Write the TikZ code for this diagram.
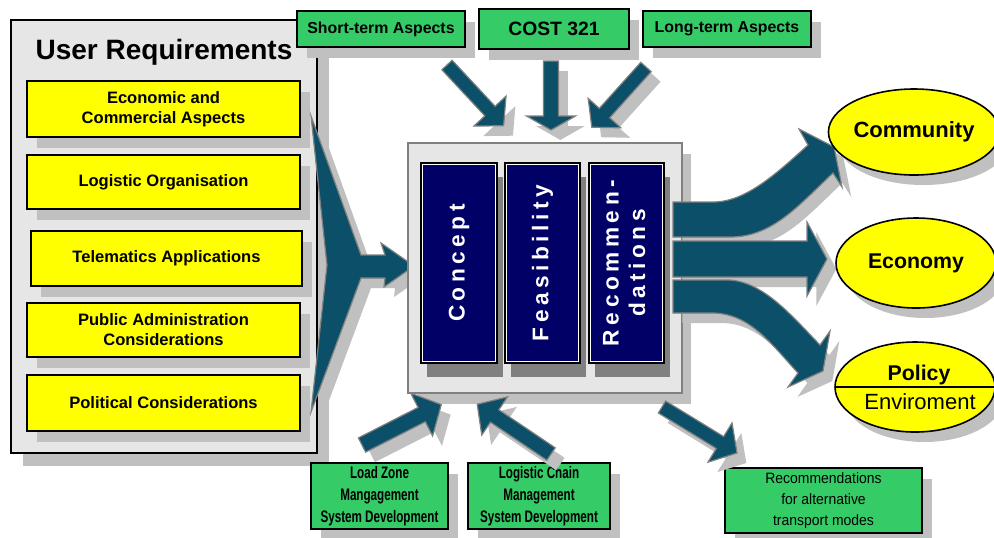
\documentclass[tikz,border=0pt]{standalone}
\usepackage{fontspec}
\setmainfont{Liberation Sans}
\newfontfamily\condfont[FakeStretch=0.70]{Liberation Sans}
\newfontfamily\recfont[FakeStretch=0.93]{Liberation Sans}
\newfontfamily\spacedfont[LetterSpace=20]{Liberation Sans}
\usetikzlibrary{shapes.geometric,shadows}

\definecolor{panelgray}{HTML}{E6E6E6}
\definecolor{shadowgray}{HTML}{C0C0C0}
\definecolor{darkshadow}{HTML}{808080}
\definecolor{reqyellow}{HTML}{FFFF00}
\definecolor{boxgreen}{HTML}{35CC68}
\definecolor{phasenavy}{HTML}{000066}
\definecolor{flowteal}{HTML}{0B5068}
\definecolor{edgegray}{HTML}{808080}

% block arrow: style, x, y, angle, length, half shaft width, half head width, head length
\newcommand{\blockarrow}[8]{%
  \path[#1, shift={(#2,#3)}, rotate=#4]
    (0,-#6) -- ({#5-#8},-#6) -- ({#5-#8},-#7) -- (#5,0)
    -- ({#5-#8},#7) -- ({#5-#8},#6) -- (0,#6) -- cycle;}
% block arrow with its grey drop shadow
\newcommand{\shadedarrow}[7]{%
  \blockarrow{arrowshadow, xshift=7pt, yshift=-7.5pt}{#1}{#2}{#3}{#4}{#5}{#6}{#7}%
  \blockarrow{arrowbody}{#1}{#2}{#3}{#4}{#5}{#6}{#7}}

\begin{document}
\begin{tikzpicture}[x=0.75pt,y=-0.75pt,
  sz/.style 2 args={minimum width=#1*0.75pt, minimum height=#2*0.75pt},
  every node/.style={inner sep=0pt, outer sep=0pt},
  boxshadow/.style={drop shadow={shadow xshift=7.5pt, shadow yshift=-8.25pt,
      fill=shadowgray, opacity=1}},
  panel/.style={rectangle, draw=black, line width=1.5pt, fill=panelgray,
      drop shadow={shadow xshift=9pt, shadow yshift=-9.75pt, fill=shadowgray, opacity=1}},
  reqbox/.style={rectangle, draw=black, line width=1.4pt, fill=reqyellow, boxshadow,
      align=center, font=\fontsize{12.4}{15}\selectfont\bfseries},
  greenbox/.style={rectangle, draw=black, line width=1.4pt, fill=boxgreen, boxshadow,
      align=center},
  centrebox/.style={rectangle, draw=edgegray, line width=1.1pt, fill=panelgray,
      drop shadow={shadow xshift=6.75pt, shadow yshift=-8.25pt, fill=shadowgray, opacity=1}},
  phasebox/.style={rectangle, draw=black, line width=1.3pt, fill=phasenavy,
      drop shadow={shadow xshift=4.5pt, shadow yshift=-10.5pt, fill=darkshadow, opacity=1},
      text=white, font=\spacedfont\fontsize{17}{20}\selectfont\bfseries},
  goal/.style={ellipse, draw=black, line width=1.2pt, fill=reqyellow,
      drop shadow={shadow xshift=7pt, shadow yshift=-7.5pt, fill=shadowgray, opacity=1}},
  arrowbody/.style={fill=flowteal, draw=edgegray, line width=0.9pt, line join=miter},
  arrowshadow/.style={fill=shadowgray}]

\useasboundingbox (0,0) rectangle (994,537);

% ---------------- user requirements panel ----------------
\node[panel, sz={306}{433}] (req) at (164,236.5) {};
\node[font=\fontsize{21}{25}\selectfont\bfseries] (reqtitle) at (164,52) {User Requirements};
\node[reqbox, sz={273}{56}] (eco) at (163.5,109) {Economic and\\Commercial Aspects};
\node[reqbox, sz={273}{54}] (logorg) at (163.5,182) {Logistic Organisation};
\node[reqbox, sz={271}{55}] (telem) at (166.5,258.5) {Telematics Applications};
\node[reqbox, sz={273}{54}] (pubadm) at (163.5,330) {Public Administration\\Considerations};
\node[reqbox, sz={273}{56}] (polit) at (163.5,403) {Political Considerations};

% chevron gathering the requirements
\path[arrowshadow, xshift=7.5pt, yshift=-7.5pt]
  (311,116) -- (361,255) -- (385,255) -- (381,243) -- (414,266) -- (384,287)
  -- (385,278) -- (361,278) -- (311,412) -- (327,265) -- cycle;
\path[arrowbody]
  (311,116) -- (361,255) -- (385,255) -- (381,243) -- (414,266) -- (384,287)
  -- (385,278) -- (361,278) -- (311,412) -- (327,265) -- cycle;

% ---------------- central study phases ----------------
\node[centrebox, sz={274}{250}] (study) at (545,268) {};
\node[phasebox, sz={76}{200}] (concept) at (459,263) {\rotatebox{90}{Concept}};
\node[phasebox, sz={75}{200}] (feas) at (542.5,263) {\rotatebox{90}{Feasibility}};
\node[phasebox, sz={75}{200}] (recom) at (626.5,263)
  {\rotatebox{90}{\begin{tabular}{@{}c@{}}Recommen-\\dations\end{tabular}}};
% thin light inner rim of the phase boxes
\foreach \n in {concept,feas,recom}
  \draw[white, line width=0.5pt]
    ([xshift=1.3pt,yshift=-1.3pt]\n.north west) rectangle ([xshift=-1.3pt,yshift=1.3pt]\n.south east);

% ---------------- outgoing flows ----------------
% to Community
\path[arrowshadow, xshift=7pt, yshift=-7.5pt]
  (673,202) -- (713,202) .. controls (745,202) and (775,175) .. (808,145)
  -- (799,129) -- (834,147) -- (842,187) -- (833,173)
  .. controls (797,207) and (772,237) .. (730,237) -- (673,237) -- cycle;
% to Policy / Enviroment
\path[arrowshadow, xshift=7pt, yshift=-7.5pt]
  (673,280) -- (727,280) .. controls (762,280) and (792,316) .. (820,345)
  -- (830,331) -- (823,371) -- (788,387) -- (798,373)
  .. controls (772,345) and (750,313) .. (712,313) -- (673,313) -- cycle;
% to Economy
\path[arrowshadow, xshift=7pt, yshift=-7.5pt]
  (673,241) -- (807,241) -- (807,222) -- (827,259) -- (807,296) -- (807,277)
  -- (673,277) -- cycle;
\path[arrowbody]
  (673,202) -- (713,202) .. controls (745,202) and (775,175) .. (808,145)
  -- (799,129) -- (834,147) -- (842,187) -- (833,173)
  .. controls (797,207) and (772,237) .. (730,237) -- (673,237) -- cycle;
\path[arrowbody]
  (673,280) -- (727,280) .. controls (762,280) and (792,316) .. (820,345)
  -- (830,331) -- (823,371) -- (788,387) -- (798,373)
  .. controls (772,345) and (750,313) .. (712,313) -- (673,313) -- cycle;
\path[arrowbody]
  (673,241) -- (807,241) -- (807,222) -- (827,259) -- (807,296) -- (807,277)
  -- (673,277) -- cycle;

% ---------------- impact areas ----------------
\node[goal, sz={162}{86}, font=\fontsize{16.5}{18}\selectfont\bfseries] (community) at (914,132) {Community};
\node[goal, sz={160}{90}, font=\fontsize{16}{18}\selectfont\bfseries] (economy) at (916,263) {Economy};
\node[goal, sz={160}{90}] (policyenv) at (915,387) {};
\draw[line width=1.2pt] (policyenv.west) -- (policyenv.east);
\node[font=\fontsize{16}{18}\selectfont\bfseries] (policy) at (919,375) {Policy};
\node[font=\fontsize{16.5}{18}\selectfont] (envir) at (920,402) {Enviroment};

% ---------------- inputs from above ----------------
\node[greenbox, sz={168}{36}, font=\fontsize{11.9}{14}\selectfont\bfseries] (short) at (381,29) {Short-term Aspects};
\node[greenbox, sz={150}{40}, font=\fontsize{14.5}{17}\selectfont\bfseries] (cost) at (554,29) {COST 321};
\node[greenbox, sz={168}{36}, font=\fontsize{11.9}{14}\selectfont\bfseries] (long) at (727,29) {Long-term Aspects};

\shadedarrow{447}{65}{-47}{83}{7}{22}{20}
\shadedarrow{551}{61}{-90}{69}{7.5}{24.5}{14}
\shadedarrow{646}{67}{-132}{81}{7}{22}{19}

% ---------------- inputs from below ----------------
\node[greenbox, sz={137}{66}, font=\condfont\fontsize{12.5}{16.3}\selectfont\bfseries] (loadzone) at (379.5,496)
  {Load Zone\\Mangagement\\System Development};
\node[greenbox, sz={142}{66}, font=\condfont\fontsize{12.5}{16.3}\selectfont\bfseries] (chain) at (539,496)
  {Logistic Chain\\Management\\System Development};
\node[greenbox, sz={197}{65}, font=\recfont\fontsize{11.25}{16}\selectfont] (altmodes) at (823.5,500.5)
  {Recommendations\\for alternative\\transport modes};

\shadedarrow{362}{445}{27}{89}{8}{24}{22}
\shadedarrow{551}{454}{146}{89}{7.5}{23}{21}
\shadedarrow{662}{407}{-31.5}{88}{7}{23}{20}

\end{tikzpicture}
\end{document}
